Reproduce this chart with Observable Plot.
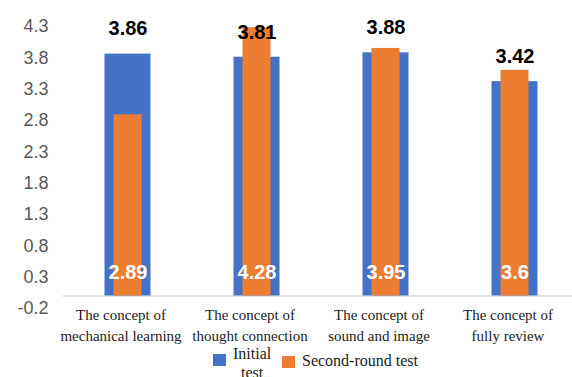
<!DOCTYPE html>
<html>
<head>
<meta charset="utf-8">
<script src="https://cdn.jsdelivr.net/npm/d3@7"></script>
<script src="https://cdn.jsdelivr.net/npm/@observablehq/plot@0.6"></script>
<style>
  html, body { margin: 0; padding: 0; background: #fff; overflow: hidden; }
  #wrap { position: relative; width: 572px; height: 377px; }
  #legend { position: absolute; left: 0; top: 345px; width: 572px; height: 40px;
            font-family: "Liberation Serif", "Times New Roman", serif; font-size: 16px; color: #222; }
  .sw { position: absolute; width: 13px; height: 12px; }
  .lab { position: absolute; line-height: 19px; white-space: nowrap; }
</style>
</head>
<body>
<div id="wrap">
  <div id="chart"></div>
  <div id="legend"></div>
</div>
<script>
// Scores for each learning concept
const categories = [
  "The concept of\nmechanical learning",
  "The concept of\nthought connection",
  "The concept of\nsound and image",
  "The concept of\nfully review"
];
const initialTest = [3.86, 3.81, 3.88, 3.42];
const secondRound = [2.89, 4.28, 3.95, 3.6];
const yTicks = [-0.2, 0.3, 0.8, 1.3, 1.8, 2.3, 2.8, 3.3, 3.8, 4.3];
const seriesNames = ["Initial\ntest", "Second-round test"];
const colors = ["#4472C4", "#ED7D31"];

const rows = categories.map((c, i) => ({ category: c, initial: initialTest[i], second: secondRound[i] }));

const sans = "'Liberation Sans', Arial, Helvetica, sans-serif";
const serif = "'Liberation Serif', 'Times New Roman', serif";

const chart = Plot.plot({
  width: 572,
  height: 345,
  marginLeft: 63,
  marginRight: 0,
  marginTop: 26,
  marginBottom: 37,
  style: { background: "#fff" },
  x: { domain: categories, range: [63, 579], padding: 0, axis: null },
  y: { domain: [-0.2, 4.3], range: [308, 26], axis: null },
  marks: [
    Plot.axisY({
      ticks: yTicks, tickSize: 0, tickPadding: 15,
      tickFormat: d => d.toFixed(1),
      fontSize: 18, fontFamily: sans, fill: "#595959"
    }),
    Plot.ruleY([0], { stroke: "#d9d9d9", strokeWidth: 1.5 }),
    Plot.barY(rows, { x: "category", y: "initial", fill: colors[0], insetLeft: 41.5, insetRight: 41.5 }),
    Plot.barY(rows, { x: "category", y: "second", fill: colors[1], insetLeft: 50.5, insetRight: 50.5 }),
    // initial-test values above the wide bars
    Plot.text(rows, {
      x: "category", y: "initial", text: d => String(d.initial), dy: -25,
      fontSize: 20, fontWeight: "bold", fontFamily: sans, fill: "#000"
    }),
    // second-round values near the base of the narrow bars
    Plot.text(rows, {
      x: "category", y: 0, text: d => String(d.second), dy: -23,
      fontSize: 20, fontWeight: "bold", fontFamily: sans, fill: "#fff"
    }),
    // category labels
    Plot.text(rows, {
      x: "category", text: "category", frameAnchor: "bottom", dy: 15, dx: -7,
      lineAnchor: "middle", lineHeight: 1.4,
      fontSize: 15, fontFamily: serif, fill: "#222"
    })
  ]
});
document.getElementById("chart").appendChild(chart);

// legend
const legend = document.getElementById("legend");
const items = [
  { sw: [213, 9], lab: [233, -1.5], center: true },
  { sw: [282, 11], lab: [302, 5.5], center: false }
];
seriesNames.forEach((name, i) => {
  const s = document.createElement("div");
  s.className = "sw";
  s.style.left = items[i].sw[0] + "px";
  s.style.top = items[i].sw[1] + "px";
  s.style.background = colors[i];
  legend.appendChild(s);
  const t = document.createElement("div");
  t.className = "lab";
  t.style.left = items[i].lab[0] + "px";
  t.style.top = items[i].lab[1] + "px";
  if (items[i].center) t.style.textAlign = "center";
  t.innerHTML = name.split("\n").join("<br>");
  legend.appendChild(t);
});
</script>
</body>
</html>
